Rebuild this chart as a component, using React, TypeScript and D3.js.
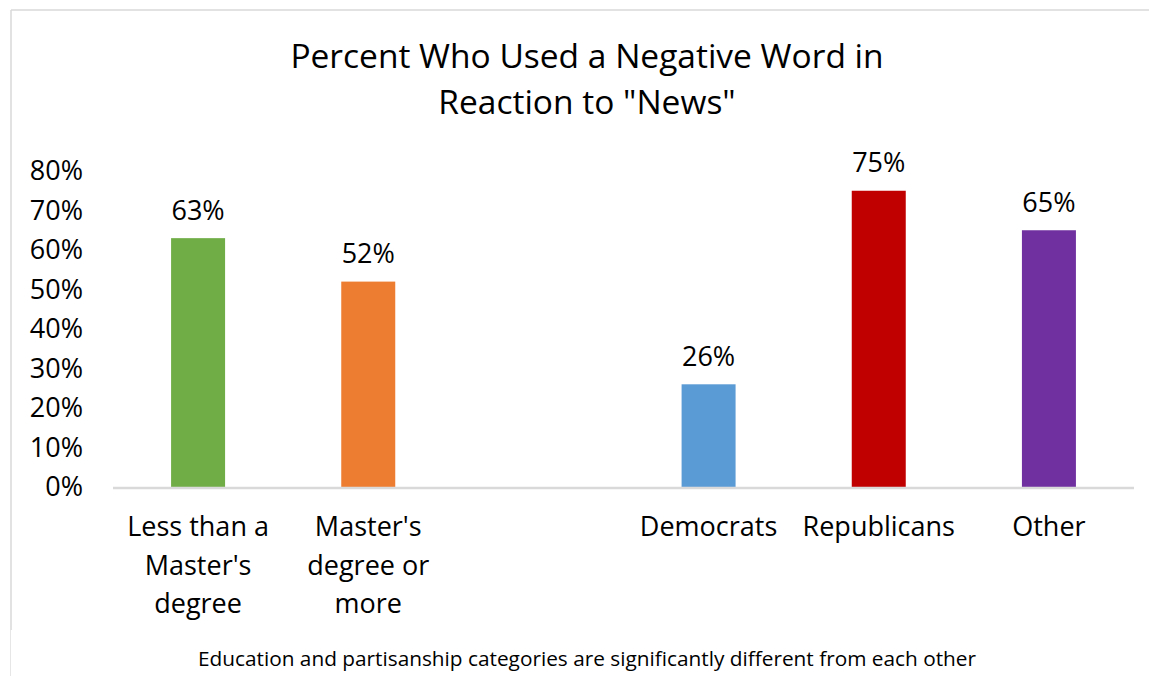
import React from "react";
import * as d3 from "d3";

const categories = ["Less than a|Master's|degree", "Master's|degree or|more", "", "Democrats", "Republicans", "Other"];
const values = [0.63, 0.52, null, 0.26, 0.75, 0.65];
const colors = ["#70ad47", "#ed7d31", "none", "#5b9bd5", "#c00000", "#7030a0"];
const yTicks = [0, 0.1, 0.2, 0.3, 0.4, 0.5, 0.6, 0.7, 0.8];
const titleLines = ["Percent Who Used a Negative Word in", "Reaction to \"News\""];
const footnote = "Education and partisanship categories are significantly different from each other";

const W = 1149, H = 676;
const FONT = "'Open Sans', sans-serif";

export default function App() {
  const x = d3.scaleBand<number>().domain(d3.range(categories.length)).range([113, 1134]).paddingInner(0).paddingOuter(0);
  const y = d3.scaleLinear().domain([0, 0.8]).range([487, 171]);
  const barW = 54;
  const fmt = d3.format(".0%");
  return (
    <svg width={W} height={H} style={{ position: "absolute", left: 0, top: 0, background: "#fff" }}>
      <line x1={11} y1={10} x2={W} y2={10} stroke="#d9d9d9" strokeWidth={1.5} />
      <line x1={11} y1={10} x2={11} y2={630} stroke="#d9d9d9" strokeWidth={1.5} />
      <line x1={10.5} y1={630} x2={10.5} y2={H} stroke="#e6e6e6" strokeWidth={1} />
      {titleLines.map((t, i) => (
        <text key={i} x={587} y={56 + i * 46} dy="0.35em" textAnchor="middle" fontFamily={FONT} fontSize={33.5} fill="#000">{t}</text>
      ))}
      {yTicks.map((t) => (
        <text key={t} x={83} y={y(t)} dy="0.35em" textAnchor="end" fontFamily={FONT} fontSize={27} fill="#000">{fmt(t)}</text>
      ))}
      {values.map((v, i) => v == null ? null : (
        <g key={i}>
          <rect x={x(i)! + x.bandwidth() / 2 - barW / 2} y={y(v)} width={barW} height={y(0) - y(v)} fill={colors[i]} />
          <text x={x(i)! + x.bandwidth() / 2} y={y(v) - 28} dy="0.35em" textAnchor="middle" fontFamily={FONT} fontSize={27} fill="#000">{fmt(v)}</text>
        </g>
      ))}
      <line x1={113} x2={1134} y1={y(0) + 1} y2={y(0) + 1} stroke="#d9d9d9" strokeWidth={2.5} />
      {categories.map((c, i) => (
        <text key={i} textAnchor="middle" fontFamily={FONT} fontSize={27} fill="#000">
          {c.split("|").filter((s) => s).map((s, j) => (
            <tspan key={j} x={x(i)! + x.bandwidth() / 2} y={527 + j * 38.5} dy="0.35em">{s}</tspan>
          ))}
        </text>
      ))}
      <text x={587} y={659} dy="0.35em" textAnchor="middle" fontFamily={FONT} fontSize={20.8} fill="#000">{footnote}</text>
    </svg>
  );
}
